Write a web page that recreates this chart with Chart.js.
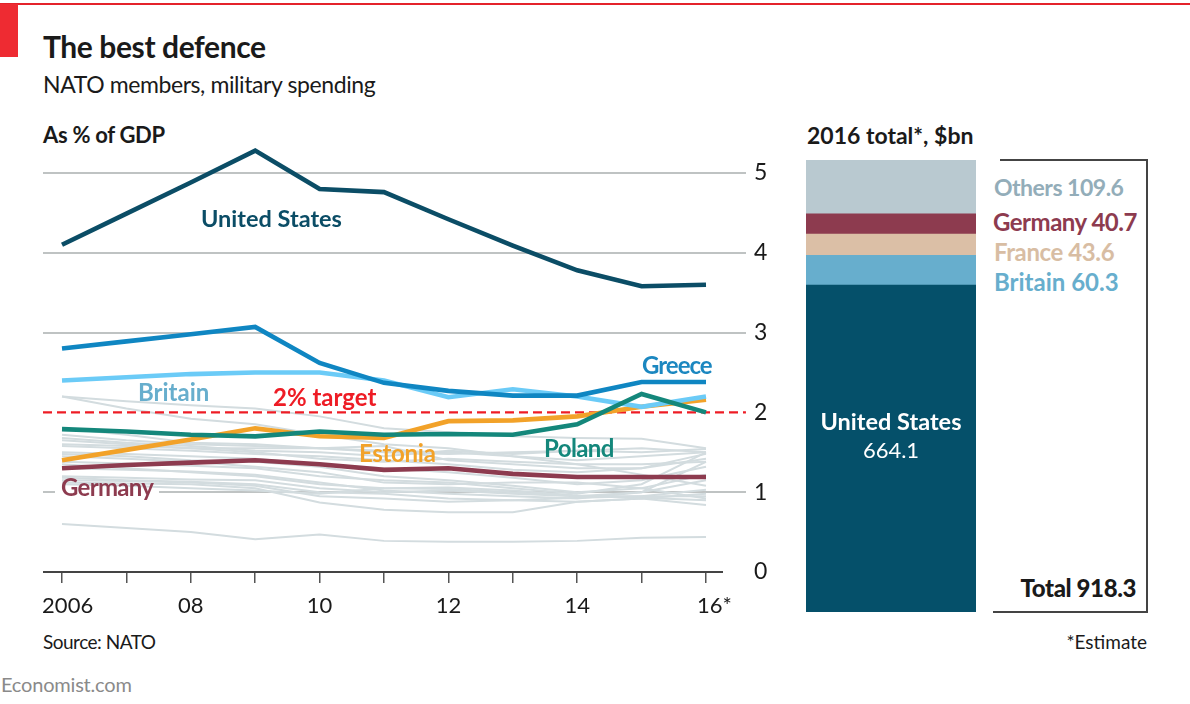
<!DOCTYPE html>
<html>
<head>
<meta charset="utf-8">
<script src="https://cdn.jsdelivr.net/npm/chart.js@4/dist/chart.umd.min.js"></script>
<style>
  html, body { margin: 0; padding: 0; background: #fff; }
  body { width: 1190px; height: 704px; position: relative; overflow: hidden; font-family: Lato, sans-serif; color: #1a1a1a; }
  canvas { position: absolute; }
  .t { position: absolute; white-space: nowrap; line-height: 1; }
  .l { position: absolute; font-weight: 700; font-size: 24px; white-space: nowrap; line-height: 1; }
  .rule { position: absolute; background: #444; }
</style>
</head>
<body>
<div style="position:absolute;left:0;top:3px;width:1190px;height:2px;background:#e4232b"></div>
<div style="position:absolute;left:0;top:4px;width:18px;height:53px;background:#ee2b32"></div>

<div class="t" style="left:43px;top:31px;font-size:30px;font-weight:700;letter-spacing:-0.4px">The best defence</div>
<div class="t" style="left:43px;top:73px;font-size:23px;letter-spacing:-0.4px">NATO members, military spending</div>
<div class="t" style="left:43px;top:124px;font-size:22px;font-weight:700;letter-spacing:-0.3px">As % of GDP</div>
<div class="t" style="left:807px;top:124px;font-size:23px;font-weight:700">2016 total*, $bn</div>

<canvas id="lines" width="790" height="625" style="left:0;top:0;width:790px;height:625px"></canvas>
<canvas id="stack" width="170" height="452" style="left:806px;top:160px;width:170px;height:452px"></canvas>

<div class="l" style="left:201px;top:207px;font-size:23.5px;color:#0b4d66">United States</div>
<div class="l" style="left:642px;top:353px;letter-spacing:-1px;color:#1b87c0">Greece</div>
<div class="l" style="left:138px;top:380px;color:#67aecd">Britain</div>
<div class="l" style="left:273px;top:385px;color:#ee1c25">2% target</div>
<div class="l" style="left:359px;top:441px;letter-spacing:-0.3px;color:#f2a229">Estonia</div>
<div class="l" style="left:544px;top:436px;letter-spacing:-0.6px;color:#14877b">Poland</div>
<!-- gap in the 1 gridline behind the Germany label -->
<div style="position:absolute;left:55px;top:490px;width:104px;height:5px;background:#fff"></div>
<div class="l" style="left:61px;top:475px;letter-spacing:-0.7px;color:#8d3b4f">Germany</div>

<div class="rule" style="left:1000px;top:159px;width:148px;height:2px"></div>
<div class="rule" style="left:1146px;top:159px;width:2px;height:454px"></div>
<div class="rule" style="left:993px;top:611px;width:155px;height:2px"></div>

<div class="t" style="left:994px;top:176px;font-size:23px;color:#93adb9;font-weight:700;letter-spacing:-0.5px">Others 109.6</div>
<div class="l" style="left:993px;top:210px;letter-spacing:-0.5px;color:#8d3b4f">Germany 40.7</div>
<div class="l" style="left:994px;top:240px;letter-spacing:-0.4px;color:#d8bda3">France 43.6</div>
<div class="l" style="left:994px;top:270px;color:#67aecd">Britain 60.3</div>
<div class="t" style="left:806px;top:410px;width:170px;text-align:center;font-size:23.5px;font-weight:700;color:#fff">United States</div>
<div class="t" style="left:806px;top:439px;width:170px;text-align:center;font-size:22px;color:#fff">664.1</div>
<div class="t" style="right:54px;top:576px;font-size:24px;font-weight:900;letter-spacing:-0.4px">Total 918.3</div>

<div class="t" style="left:43px;top:632px;font-size:19px;letter-spacing:-0.5px">Source: NATO</div>
<div class="t" style="right:43px;top:632px;font-size:19px">*Estimate</div>
<div class="t" style="left:1px;top:674px;font-size:20px;letter-spacing:-0.2px;color:#8a8a8a">Economist.com</div>

<script>
const years = [2006, 2007, 2008, 2009, 2010, 2011, 2012, 2013, 2014, 2015, 2016];
const xTickLabels = ['  2006', '', '08', '', '10', '', '12', '', '14', '', '   16*'];
const yTicks = [0, 1, 2, 3, 4, 5];

const unitedStates = [4.10, 4.49, 4.88, 5.28, 4.80, 4.76, 4.42, 4.09, 3.78, 3.58, 3.60];
const greece = [2.80, 2.89, 2.98, 3.07, 2.62, 2.37, 2.27, 2.21, 2.21, 2.38, 2.38];
const britain = [2.40, 2.44, 2.48, 2.50, 2.50, 2.40, 2.19, 2.29, 2.20, 2.07, 2.20];
const estonia = [1.40, 1.53, 1.66, 1.80, 1.70, 1.68, 1.89, 1.90, 1.95, 2.07, 2.16];
const poland = [1.79, 1.76, 1.72, 1.70, 1.76, 1.72, 1.73, 1.72, 1.85, 2.23, 2.00];
const germany = [1.30, 1.34, 1.37, 1.40, 1.35, 1.28, 1.30, 1.23, 1.19, 1.19, 1.19];

const otherMembers = [
  [0.60, 0.55, 0.50, 0.41, 0.47, 0.39, 0.38, 0.38, 0.39, 0.43, 0.44],
  [2.20, 2.14, 2.09, 2.05, 1.95, 1.80, 1.75, 1.70, 1.68, 1.67, 1.55],
  [2.20, 2.05, 1.92, 1.85, 1.72, 1.60, 1.55, 1.45, 1.40, 1.45, 1.50],
  [1.80, 1.72, 1.62, 1.60, 1.55, 1.50, 1.48, 1.50, 1.52, 1.50, 1.54],
  [1.72, 1.65, 1.60, 1.58, 1.55, 1.52, 1.50, 1.45, 1.35, 1.35, 1.38],
  [1.68, 1.62, 1.58, 1.52, 1.50, 1.45, 1.52, 1.48, 1.52, 1.55, 1.50],
  [1.65, 1.60, 1.55, 1.50, 1.42, 1.38, 1.42, 1.38, 1.35, 1.22, 1.08],
  [1.60, 1.58, 1.55, 1.55, 1.55, 1.58, 1.40, 1.35, 1.30, 1.30, 1.48],
  [1.58, 1.55, 1.52, 1.48, 1.45, 1.40, 1.35, 1.28, 1.25, 1.30, 1.42],
  [1.50, 1.48, 1.45, 1.42, 1.35, 1.30, 1.25, 1.18, 1.10, 1.15, 1.32],
  [1.48, 1.45, 1.40, 1.38, 1.32, 1.20, 1.15, 1.08, 1.00, 1.05, 1.22],
  [1.45, 1.42, 1.38, 1.32, 1.25, 1.12, 1.10, 1.12, 1.12, 1.05, 0.92],
  [1.38, 1.36, 1.33, 1.30, 1.20, 1.15, 1.12, 1.05, 0.98, 1.10, 1.50],
  [1.35, 1.30, 1.25, 1.20, 1.10, 1.05, 1.04, 1.00, 0.95, 1.00, 1.38],
  [1.30, 1.28, 1.26, 1.22, 1.12, 1.02, 0.98, 0.95, 0.92, 1.00, 1.15],
  [1.20, 1.18, 1.16, 1.15, 1.05, 1.00, 1.02, 0.98, 0.95, 0.95, 1.03],
  [1.18, 1.15, 1.13, 1.10, 1.00, 0.98, 0.92, 0.90, 0.88, 0.92, 0.98],
  [1.15, 1.14, 1.12, 1.08, 0.95, 0.92, 0.88, 0.90, 0.93, 0.95, 0.95],
  [1.12, 1.11, 1.10, 1.05, 0.87, 0.78, 0.75, 0.75, 0.88, 0.92, 0.84],
  [1.10, 1.08, 1.05, 1.02, 0.98, 1.05, 1.06, 1.02, 0.96, 0.93, 0.90]
];

const target = 2;
const targetYears = [2005.705, 2016.62];

const stackNames = ['United States', 'Britain', 'France', 'Germany', 'Others'];
const stackValues = [664.1, 60.3, 43.6, 40.7, 109.6];
const stackColors = ['#05506a', '#67aecd', '#dbbfa6', '#8d3b4f', '#b9c9d0'];

const points = (series) => series.map((v, i) => ({ x: years[i], y: v }));
const thick = (label, series, color) => ({
  label, data: points(series), borderColor: color, borderWidth: 4.6, pointRadius: 0,
  tension: 0, borderJoinStyle: 'miter', borderCapStyle: 'butt', clip: false
});

// first dataset ends up on top
const datasets = [
  thick('Poland', poland, '#14877b'),
  thick('Greece', greece, '#0f86c2'),
  thick('Britain', britain, '#6bcbf7'),
  thick('Estonia', estonia, '#f2a229'),
  thick('Germany', germany, '#8d3b4f'),
  thick('United States', unitedStates, '#0b4d66'),
  {
    label: '2% target', data: targetYears.map(x => ({ x, y: target })), borderColor: '#ee1c25',
    borderWidth: 2.4, borderDash: [9, 5], pointRadius: 0, clip: false
  }
];
otherMembers.forEach((s, i) => datasets.push({
  label: 'Other ' + (i + 1), data: points(s), borderColor: '#d3dcdf', borderWidth: 2, pointRadius: 0, tension: 0
}));

new Chart(document.getElementById('lines'), {
  type: 'line',
  data: { datasets },
  options: {
    responsive: false, animation: false, devicePixelRatio: 1,
    layout: { padding: { left: 43, top: 140, right: 0, bottom: 0 } },
    plugins: { legend: { display: false }, tooltip: { enabled: false } },
    scales: {
      x: {
        type: 'linear', min: 2005.705, max: 2016.264,
        afterBuildTicks: (scale) => { scale.ticks = years.map(value => ({ value })); },
        afterFit: (scale) => { scale.height = 53; },
        border: { display: false },
        grid: { drawOnChartArea: false, color: '#555', tickLength: 11, lineWidth: 1.5 },
        ticks: {
          autoSkip: false, maxRotation: 0, padding: 10, color: '#1a1a1a',
          font: { family: 'Lato', size: 22 },
          callback: (v, i) => xTickLabels[i]
        }
      },
      y: {
        position: 'right', min: 0, max: 5.413,
        afterBuildTicks: (scale) => { scale.ticks = yTicks.map(value => ({ value })); },
        afterFit: (scale) => { scale.width = 67; },
        border: { display: false },
        grid: {
          tickLength: 23,
          lineWidth: 2,
          color: (c) => c.tick.value === 0 ? '#444' : c.tick.value === target ? 'rgba(0,0,0,0)' : '#bfc3c3',
          tickColor: (c) => c.tick.value === 0 || c.tick.value === target ? 'rgba(0,0,0,0)' : '#bfc3c3'
        },
        ticks: { padding: 8, color: '#1a1a1a', font: { family: 'Lato', size: 23 } }
      }
    }
  }
});

new Chart(document.getElementById('stack'), {
  type: 'bar',
  data: {
    labels: ['2016'],
    datasets: stackNames.map((name, i) => ({
      label: name, data: [stackValues[i]], backgroundColor: stackColors[i],
      barPercentage: 1, categoryPercentage: 1, borderWidth: 0
    }))
  },
  options: {
    responsive: false, animation: false, devicePixelRatio: 1,
    plugins: { legend: { display: false }, tooltip: { enabled: false } },
    scales: {
      x: { stacked: true, display: false },
      y: { stacked: true, display: false, min: 0, max: 918.3 }
    }
  }
});
</script>
</body>
</html>
